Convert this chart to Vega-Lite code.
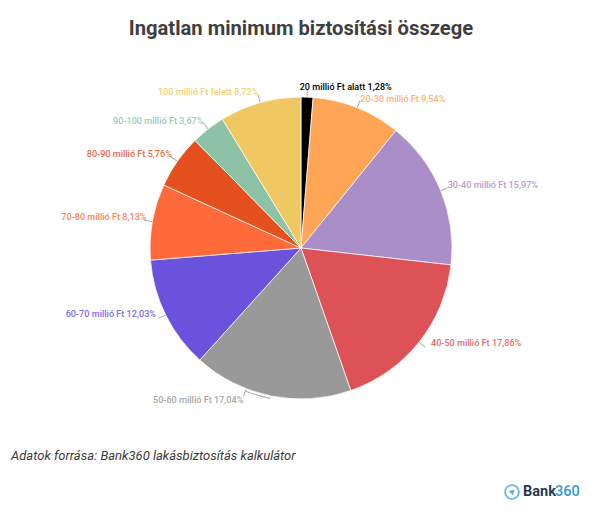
{
  "$schema": "https://vega.github.io/schema/vega-lite/v6.json",
  "background": "#ffffff",
  "width": 602,
  "height": 400,
  "padding": {"left": 0, "right": 0, "top": 48, "bottom": 64},
  "autosize": {"type": "none"},
  "title": {
    "text": "Ingatlan minimum biztosítási összege",
    "font": "Roboto",
    "fontSize": 20.2,
    "fontWeight": 700,
    "color": "#3f3f3f",
    "anchor": "middle",
    "offset": 9
  },
  "config": {"view": {"stroke": null}},
  "layer": [
    {
      "data": {
        "values": [
          {"order": 1, "label": "20 millió Ft alatt 1,28%", "share": 1.28},
          {"order": 2, "label": "20-30 millió Ft 9,54%", "share": 9.54},
          {"order": 3, "label": "30-40 millió Ft 15,97%", "share": 15.97},
          {"order": 4, "label": "40-50 millió Ft 17,86%", "share": 17.86},
          {"order": 5, "label": "50-60 millió Ft 17,04%", "share": 17.04},
          {"order": 6, "label": "60-70 millió Ft 12,03%", "share": 12.03},
          {"order": 7, "label": "70-80 millió Ft 8,13%", "share": 8.13},
          {"order": 8, "label": "80-90 millió Ft 5,76%", "share": 5.76},
          {"order": 9, "label": "90-100 millió Ft 3,67%", "share": 3.67},
          {"order": 10, "label": "100 millió Ft felett 8,72%", "share": 8.72}
        ]
      },
      "transform": [
        {"window": [{"op": "sum", "field": "share", "as": "end"}], "sort": [{"field": "order"}]},
        {"calculate": "datum.end - datum.share", "as": "start"},
        {"calculate": "datum.end - datum.share / 2", "as": "mid"},
        {"calculate": "datum.order == 5 ? 55.9 : datum.mid", "as": "tickAt"},
        {"calculate": "datum.tickAt - 0.05", "as": "tick1"},
        {"calculate": "datum.tickAt + 0.05", "as": "tick2"}
      ],
      "encoding": {
        "color": {
          "field": "label",
          "type": "nominal",
          "legend": null,
          "sort": null,
          "scale": {
            "domain": [
              "20 millió Ft alatt 1,28%",
              "20-30 millió Ft 9,54%",
              "30-40 millió Ft 15,97%",
              "40-50 millió Ft 17,86%",
              "50-60 millió Ft 17,04%",
              "60-70 millió Ft 12,03%",
              "70-80 millió Ft 8,13%",
              "80-90 millió Ft 5,76%",
              "90-100 millió Ft 3,67%",
              "100 millió Ft felett 8,72%"
            ],
            "range": ["#000000", "#ffa556", "#aa8ec7", "#dd5257", "#999999", "#6b52dd", "#ff6a3a", "#e5501f", "#8ec2a6", "#efc864"]
          }
        }
      },
      "layer": [
        {
          "mark": {"type": "arc", "innerRadius": 151, "outerRadius": 159},
          "encoding": {
            "color": {"value": "#aaaaaa"},
            "theta": {"field": "tick1", "type": "quantitative", "stack": null, "scale": {"domain": [0, 100]}},
            "theta2": {"field": "tick2"}
          }
        },
        {
          "transform": [{"filter": "datum.order == 5"}],
          "mark": {"type": "arc", "innerRadius": 153, "outerRadius": 154},
          "encoding": {
            "color": {"value": "#aaaaaa"},
            "theta": {"field": "mid", "type": "quantitative", "stack": null, "scale": {"domain": [0, 100]}},
            "theta2": {"field": "tick2"}
          }
        },
        {
          "mark": {"type": "arc", "outerRadius": 151, "stroke": "#ffffff", "strokeWidth": 0.7},
          "encoding": {
            "theta": {"field": "start", "type": "quantitative", "stack": null, "scale": {"domain": [0, 100]}},
            "theta2": {"field": "end"}
          }
        },
        {
          "transform": [{"filter": "datum.order == 1"}],
          "mark": {"type": "text", "radius": 165, "font": "Roboto", "fontSize": 9.1, "fontWeight": 500, "align": "left", "dx": -8, "dy": 4},
          "encoding": {"theta": {"field": "mid", "type": "quantitative", "stack": null, "scale": {"domain": [0, 100]}}, "text": {"field": "label"}}
        },
        {
          "transform": [{"filter": "datum.order == 2"}],
          "mark": {"type": "text", "radius": 165, "font": "Roboto", "fontSize": 9.1, "fontWeight": 500, "align": "left", "opacity": 0.85, "dx": -2, "dy": 4},
          "encoding": {"theta": {"field": "mid", "type": "quantitative", "stack": null, "scale": {"domain": [0, 100]}}, "text": {"field": "label"}}
        },
        {
          "transform": [{"filter": "datum.order == 3"}],
          "mark": {"type": "text", "radius": 165, "font": "Roboto", "fontSize": 9.1, "fontWeight": 500, "align": "left", "opacity": 0.85, "dx": -6, "dy": 0},
          "encoding": {"theta": {"field": "mid", "type": "quantitative", "stack": null, "scale": {"domain": [0, 100]}}, "text": {"field": "label"}}
        },
        {
          "transform": [{"filter": "datum.order == 4"}],
          "mark": {"type": "text", "radius": 165, "font": "Roboto", "fontSize": 9.1, "fontWeight": 500, "align": "left", "opacity": 0.85, "dx": 1, "dy": -8},
          "encoding": {"theta": {"field": "mid", "type": "quantitative", "stack": null, "scale": {"domain": [0, 100]}}, "text": {"field": "label"}}
        },
        {
          "transform": [{"filter": "datum.order == 5"}],
          "mark": {"type": "text", "radius": 165, "font": "Roboto", "fontSize": 9.1, "fontWeight": 500, "align": "right", "opacity": 0.85, "dx": -25, "dy": -10},
          "encoding": {"theta": {"field": "mid", "type": "quantitative", "stack": null, "scale": {"domain": [0, 100]}}, "text": {"field": "label"}}
        },
        {
          "transform": [{"filter": "datum.order == 6"}],
          "mark": {"type": "text", "radius": 165, "font": "Roboto", "fontSize": 9.1, "fontWeight": 500, "align": "right", "opacity": 0.85, "dx": 3, "dy": -7},
          "encoding": {"theta": {"field": "mid", "type": "quantitative", "stack": null, "scale": {"domain": [0, 100]}}, "text": {"field": "label"}}
        },
        {
          "transform": [{"filter": "datum.order == 7"}],
          "mark": {"type": "text", "radius": 165, "font": "Roboto", "fontSize": 9.1, "fontWeight": 500, "align": "right", "opacity": 0.85, "dx": 8, "dy": -2},
          "encoding": {"theta": {"field": "mid", "type": "quantitative", "stack": null, "scale": {"domain": [0, 100]}}, "text": {"field": "label"}}
        },
        {
          "transform": [{"filter": "datum.order == 8"}],
          "mark": {"type": "text", "radius": 165, "font": "Roboto", "fontSize": 9.1, "fontWeight": 500, "align": "right", "opacity": 0.85, "dx": 6, "dy": 1},
          "encoding": {"theta": {"field": "mid", "type": "quantitative", "stack": null, "scale": {"domain": [0, 100]}}, "text": {"field": "label"}}
        },
        {
          "transform": [{"filter": "datum.order == 9"}],
          "mark": {"type": "text", "radius": 165, "font": "Roboto", "fontSize": 9.1, "fontWeight": 500, "align": "right", "opacity": 0.85, "dx": 4, "dy": 3},
          "encoding": {"theta": {"field": "mid", "type": "quantitative", "stack": null, "scale": {"domain": [0, 100]}}, "text": {"field": "label"}}
        },
        {
          "transform": [{"filter": "datum.order == 10"}],
          "mark": {"type": "text", "radius": 165, "font": "Roboto", "fontSize": 9.1, "fontWeight": 500, "align": "right", "opacity": 0.85, "dx": 2, "dy": 3},
          "encoding": {"theta": {"field": "mid", "type": "quantitative", "stack": null, "scale": {"domain": [0, 100]}}, "text": {"field": "label"}}
        }
      ]
    },
    {
      "data": {"values": [{"note": "Adatok forrása: Bank360 lakásbiztosítás kalkulátor"}]},
      "mark": {"type": "text", "font": "Roboto", "fontSize": 13, "fontStyle": "italic", "fontWeight": 400, "align": "left", "color": "#3a3a3a"},
      "encoding": {"text": {"field": "note"}, "x": {"value": 11}, "y": {"value": 408}}
    },
    {
      "data": {"values": [{"note": "Bank"}]},
      "mark": {"type": "text", "font": "Roboto", "fontSize": 14.5, "fontWeight": 700, "align": "left", "color": "#1f3a56"},
      "encoding": {"text": {"field": "note"}, "x": {"value": 523}, "y": {"value": 444}}
    },
    {
      "data": {"values": [{"note": "360"}]},
      "mark": {"type": "text", "font": "Roboto", "fontSize": 14.5, "fontWeight": 500, "align": "left", "color": "#2f9bd6"},
      "encoding": {"text": {"field": "note"}, "x": {"value": 555}, "y": {"value": 444}}
    },
    {
      "data": {"values": [{"note": "logo"}]},
      "mark": {"type": "point", "shape": "circle", "size": 190, "filled": false, "strokeWidth": 1.8, "color": "#2f9bd6"},
      "encoding": {"x": {"value": 512}, "y": {"value": 444}}
    },
    {
      "data": {"values": [{"note": "logo"}]},
      "mark": {"type": "point", "shape": "triangle", "size": 34, "filled": true, "angle": 45, "color": "#2f7fc0"},
      "encoding": {"x": {"value": 512}, "y": {"value": 444}}
    }
  ]
}
